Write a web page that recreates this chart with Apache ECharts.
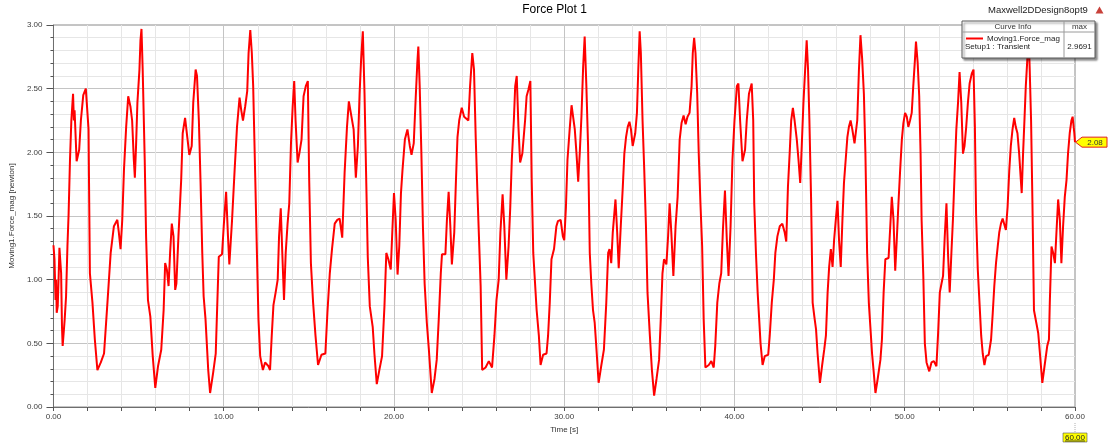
<!DOCTYPE html>
<html>
<head>
<meta charset="utf-8">
<title>Force Plot 1</title>
<script src="https://cdn.jsdelivr.net/npm/echarts@6/dist/echarts.min.js"></script>
<style>
  html, body { margin: 0; padding: 0; background: #ffffff; }
  #chart { width: 1109px; height: 447px; }
</style>
</head>
<body>
<div id="chart"></div>
<script>
// Transient force magnitude on Moving1, sampled along the simulation time.
const timeS = [
  0.00, 0.06, 0.12, 0.16, 0.19, 0.25, 0.31, 0.35, 0.41, 0.45, 0.50, 0.54, 0.60, 0.66, 0.74, 0.82, 0.89, 0.97,
  1.05, 1.15, 1.20, 1.24, 1.36, 1.51, 1.61, 1.75, 1.90, 2.00, 2.06, 2.10, 2.14, 2.29, 2.43, 2.58, 2.78, 2.97,
  3.17, 3.36, 3.55, 3.75, 3.84, 3.94, 4.04, 4.14, 4.27, 4.39, 4.52, 4.62, 4.72, 4.78, 4.85, 4.93, 5.05, 5.11,
  5.17, 5.24, 5.36, 5.44, 5.55, 5.69, 5.83, 5.98, 6.14, 6.33, 6.47, 6.56, 6.66, 6.76, 6.85, 6.95, 7.05, 7.15,
  7.22, 7.34, 7.50, 7.59, 7.73, 7.86, 7.98, 8.12, 8.21, 8.35, 8.43, 8.54, 8.64, 8.74, 8.82, 8.93, 9.09, 9.20,
  9.38, 9.53, 9.61, 9.71, 9.90, 10.00, 10.14, 10.25, 10.33, 10.49, 10.64, 10.78, 10.93, 11.03, 11.13, 11.26,
  11.38, 11.46, 11.56, 11.65, 11.73, 11.85, 11.95, 12.04, 12.14, 12.30, 12.43, 12.53, 12.63, 12.72, 12.82,
  12.92, 13.05, 13.17, 13.25, 13.35, 13.44, 13.54, 13.64, 13.75, 13.85, 13.95, 14.05, 14.14, 14.22, 14.34,
  14.44, 14.57, 14.69, 14.82, 14.94, 15.02, 15.12, 15.25, 15.39, 15.54, 15.74, 15.97, 16.09, 16.23, 16.36,
  16.52, 16.67, 16.81, 16.96, 17.10, 17.24, 17.35, 17.49, 17.63, 17.76, 17.88, 17.98, 18.07, 18.17, 18.27,
  18.37, 18.46, 18.58, 18.75, 18.85, 18.99, 19.14, 19.30, 19.44, 19.55, 19.67, 19.81, 19.90, 20.00, 20.10,
  20.21, 20.31, 20.41, 20.50, 20.64, 20.79, 20.93, 21.03, 21.16, 21.28, 21.37, 21.43, 21.51, 21.61, 21.70,
  21.80, 21.93, 22.05, 22.22, 22.38, 22.51, 22.63, 22.75, 22.82, 23.02, 23.11, 23.21, 23.31, 23.40, 23.54,
  23.64, 23.73, 23.83, 23.98, 24.12, 24.37, 24.47, 24.60, 24.70, 24.80, 24.89, 24.99, 25.09, 25.18, 25.38,
  25.57, 25.76, 25.90, 26.02, 26.15, 26.25, 26.38, 26.48, 26.60, 26.73, 26.83, 26.92, 27.04, 27.12, 27.21,
  27.31, 27.41, 27.54, 27.70, 27.79, 27.89, 28.01, 28.09, 28.18, 28.38, 28.51, 28.61, 28.76, 28.96, 29.05,
  29.15, 29.25, 29.40, 29.54, 29.63, 29.79, 29.92, 30.00, 30.10, 30.19, 30.33, 30.43, 30.52, 30.62, 30.72,
  30.82, 30.91, 31.01, 31.11, 31.20, 31.30, 31.40, 31.50, 31.59, 31.69, 31.79, 31.88, 32.02, 32.17, 32.33,
  32.47, 32.58, 32.66, 32.76, 32.85, 33.01, 33.11, 33.20, 33.32, 33.44, 33.53, 33.63, 33.73, 33.83, 33.92,
  34.02, 34.17, 34.27, 34.35, 34.43, 34.50, 34.60, 34.70, 34.80, 34.89, 35.03, 35.15, 35.28, 35.42, 35.57,
  35.67, 35.77, 35.86, 36.00, 36.10, 36.19, 36.29, 36.41, 36.54, 36.66, 36.78, 36.89, 37.01, 37.13, 37.24,
  37.36, 37.48, 37.55, 37.63, 37.71, 37.81, 37.90, 38.00, 38.10, 38.19, 38.29, 38.49, 38.64, 38.78, 38.87,
  38.99, 39.11, 39.22, 39.32, 39.44, 39.55, 39.65, 39.77, 39.88, 40.00, 40.14, 40.23, 40.33, 40.47, 40.62,
  40.72, 40.85, 41.01, 41.10, 41.16, 41.26, 41.36, 41.45, 41.53, 41.65, 41.78, 41.98, 42.07, 42.19, 42.31,
  42.40, 42.52, 42.66, 42.81, 42.95, 43.04, 43.14, 43.24, 43.33, 43.43, 43.53, 43.66, 43.76, 43.86, 43.95,
  44.05, 44.15, 44.24, 44.32, 44.40, 44.50, 44.59, 44.69, 44.79, 44.88, 45.02, 45.14, 45.27, 45.37, 45.47,
  45.56, 45.66, 45.76, 45.85, 45.95, 46.05, 46.14, 46.24, 46.34, 46.43, 46.53, 46.63, 46.72, 46.82, 46.92,
  47.05, 47.21, 47.31, 47.40, 47.50, 47.60, 47.69, 47.79, 47.89, 47.98, 48.08, 48.18, 48.28, 48.41, 48.57,
  48.66, 48.76, 48.86, 49.05, 49.15, 49.24, 49.34, 49.44, 49.53, 49.63, 49.73, 49.83, 49.92, 50.02, 50.12,
  50.21, 50.31, 50.41, 50.50, 50.60, 50.66, 50.76, 50.85, 50.93, 50.99, 51.09, 51.18, 51.28, 51.44, 51.57,
  51.71, 51.86, 51.96, 52.06, 52.16, 52.25, 52.35, 52.45, 52.54, 52.64, 52.74, 52.83, 52.93, 53.03, 53.13,
  53.22, 53.32, 53.42, 53.51, 53.61, 53.71, 53.81, 53.94, 54.04, 54.12, 54.19, 54.29, 54.39, 54.49, 54.58,
  54.68, 54.78, 54.93, 55.07, 55.17, 55.26, 55.36, 55.46, 55.55, 55.65, 55.75, 55.84, 55.94, 56.04, 56.14,
  56.23, 56.33, 56.43, 56.52, 56.62, 56.72, 56.82, 56.87, 56.95, 57.03, 57.11, 57.20, 57.28, 57.34, 57.42,
  57.50, 57.59, 57.73, 57.84, 57.94, 58.08, 58.21, 58.37, 58.47, 58.52, 58.62, 58.72, 58.82, 58.91, 59.01,
  59.11, 59.20, 59.30, 59.40, 59.50, 59.59, 59.69, 59.79, 59.86, 59.96, 60.00
];

const forceN = [
  1.27, 1.16, 0.84, 1.00, 0.74, 0.79, 1.05, 1.25, 1.25, 1.05, 0.63, 0.48, 0.49, 0.69, 0.87, 1.26, 1.52, 1.94,
  2.25, 2.46, 2.25, 2.33, 1.93, 2.02, 2.25, 2.45, 2.50, 2.50, 2.18, 1.60, 1.05, 0.82, 0.53, 0.29, 0.35, 0.42,
  0.82, 1.21, 1.42, 1.47, 1.37, 1.24, 1.47, 1.86, 2.20, 2.44, 2.36, 2.25, 1.94, 1.80, 2.05, 2.39, 2.65, 2.88,
  2.9691, 2.65, 1.94, 1.34, 0.84, 0.71, 0.40, 0.15, 0.32, 0.45, 0.76, 1.13, 1.08, 0.95, 1.21, 1.44, 1.34, 0.92,
  0.97, 1.34, 1.78, 2.15, 2.27, 2.12, 1.98, 2.05, 2.39, 2.65, 2.60, 2.25, 1.76, 1.21, 0.87, 0.69, 0.29, 0.11,
  0.27, 0.42, 0.76, 1.18, 1.20, 1.42, 1.69, 1.34, 1.12, 1.47, 1.86, 2.20, 2.43, 2.33, 2.25, 2.36,
  2.48, 2.78, 2.96, 2.78, 2.52, 1.81, 1.21, 0.69, 0.40, 0.29, 0.35, 0.36, 0.32, 0.29, 0.56,
  0.80, 0.90, 1.00, 1.34, 1.56, 1.21, 0.84, 1.21, 1.44, 1.60, 2.07, 2.36, 2.56, 2.25, 1.92,
  1.99, 2.10, 2.44, 2.52, 2.56, 1.78, 1.13, 0.82, 0.56, 0.33, 0.41, 0.42, 0.74, 1.05, 1.24,
  1.44, 1.47, 1.48, 1.33, 1.84, 2.20, 2.40, 2.29, 2.18, 1.80, 2.05, 2.46, 2.73, 2.95, 2.46,
  1.78, 1.18, 0.79, 0.63, 0.42, 0.18, 0.29, 0.40, 0.79, 1.21, 1.16, 1.08, 1.37, 1.68, 1.47,
  1.04, 1.26, 1.68, 1.86, 2.10, 2.18, 2.05, 1.98, 2.07, 2.44, 2.70, 2.83, 2.52, 1.99, 1.42,
  0.97, 0.66, 0.45, 0.11, 0.22, 0.37, 0.69, 1.05, 1.20, 1.20, 1.47, 1.69, 1.42, 1.12, 1.37,
  1.78, 2.12, 2.25, 2.35, 2.28, 2.25, 2.52, 2.78, 2.65, 2.12, 1.73, 1.34, 0.95, 0.29, 0.31,
  0.36, 0.31, 0.56, 0.84, 1.00, 1.37, 1.67, 1.42, 1.00, 1.26, 1.57, 1.94, 2.25, 2.52, 2.60,
  2.20, 1.92, 1.99, 2.25, 2.44, 2.49, 2.56, 1.78, 1.21, 0.76, 0.56, 0.33, 0.41, 0.42, 0.56,
  0.82, 1.16, 1.24, 1.42, 1.46, 1.47, 1.34, 1.31, 1.57, 1.94, 2.20, 2.37, 2.28, 2.18, 1.99,
  1.77, 1.99, 2.28, 2.67, 2.91, 2.52, 2.05, 1.21, 0.97, 0.76, 0.66, 0.48, 0.19, 0.32, 0.45,
  0.82, 1.21, 1.24, 1.13, 1.37, 1.63, 1.37, 1.09, 1.42, 1.73, 1.99, 2.12, 2.20, 2.24, 2.18,
  2.05, 2.15, 2.31, 2.65, 2.95, 2.78, 2.25, 1.86, 1.42, 0.90, 0.56, 0.29, 0.09, 0.22, 0.37,
  0.69, 1.05, 1.16, 1.12, 1.34, 1.60, 1.37, 1.03, 1.42, 1.65, 2.10, 2.23, 2.29, 2.22, 2.28,
  2.31, 2.52, 2.78, 2.90, 2.78, 2.46, 1.99, 1.60, 1.26, 0.69, 0.31, 0.33, 0.36, 0.31, 0.48,
  0.82, 0.97, 1.05, 1.39, 1.70, 1.31, 1.03, 1.42, 1.94, 2.25, 2.52, 2.54, 2.25, 1.93, 2.02,
  2.25, 2.46, 2.54, 2.25, 1.60, 1.21, 0.90, 0.69, 0.50, 0.33, 0.40, 0.41, 0.56, 0.82, 1.00,
  1.21, 1.34, 1.42, 1.44, 1.37, 1.30, 1.73, 1.99, 2.25, 2.35, 2.25, 2.10, 1.94, 1.76, 2.05,
  2.39, 2.65, 2.88, 2.65, 2.25, 1.63, 0.82, 0.71, 0.61, 0.42, 0.19, 0.32, 0.45, 0.56, 0.90,
  1.10, 1.24, 1.10, 1.31, 1.47, 1.62, 1.31, 1.10, 1.47, 1.76, 1.94, 2.12, 2.20, 2.25, 2.18,
  2.07, 2.25, 2.65, 2.92, 2.73, 2.46, 1.99, 1.21, 0.82, 0.63, 0.42, 0.27, 0.11, 0.22, 0.37,
  0.53, 0.90, 1.16, 1.17, 1.42, 1.65, 1.47, 1.07, 1.31, 1.60, 1.86, 2.10, 2.23, 2.31, 2.28,
  2.20, 2.25, 2.31, 2.52, 2.73, 2.87, 2.70, 2.44, 1.99, 1.47, 1.03, 0.50, 0.35, 0.28, 0.35,
  0.36, 0.32, 0.58, 0.90, 0.97, 1.03, 1.34, 1.60, 1.21, 0.90, 1.21, 1.47, 1.84, 2.18, 2.39,
  2.63, 2.39, 1.99, 2.05, 2.20, 2.39, 2.54, 2.62, 2.65, 2.20, 1.52, 1.08, 0.82, 0.56, 0.42,
  0.33, 0.40, 0.41, 0.53, 0.74, 0.95, 1.13, 1.26, 1.37, 1.44, 1.48, 1.47, 1.39, 1.57, 1.86,
  2.05, 2.18, 2.27, 2.20, 2.15, 1.99, 1.78, 1.68, 1.99, 2.25, 2.52, 2.73, 2.93, 2.65, 2.25,
  1.60, 0.76, 0.66, 0.58, 0.42, 0.19, 0.32, 0.48, 0.53, 0.82, 1.26, 1.21, 1.13, 1.37, 1.63,
  1.47, 1.13, 1.42, 1.65, 1.78, 1.99, 2.15, 2.25, 2.28, 2.15, 2.08
];

// Axis ticks
const timeTicks = [0, 10, 20, 30, 40, 50, 60];
const forceTicks = [0, 0.5, 1, 1.5, 2, 2.5, 3];

const curveName = 'Moving1.Force_mag';
const setupName = 'Setup1 : Transient';
const designName = 'Maxwell2DDesign8opt9';

const FONT = '"Liberation Sans", Arial, sans-serif';
const CURVE_RED = '#ff0000';

const points = timeS.map((t, i) => [t, forceN[i]]);

const chart = echarts.init(document.getElementById('chart'), null, { renderer: 'canvas' });

const option = {
  animation: false,
  backgroundColor: '#ffffff',
  textStyle: { fontFamily: FONT },
  title: {
    text: 'Force Plot 1',
    left: 'center',
    top: 4,
    padding: 0,
    textStyle: { fontFamily: FONT, fontSize: 12, fontWeight: 'normal', color: '#000000' }
  },
  grid: {
    left: 44, right: 34, top: 25, bottom: 40,
    show: true,
    borderColor: '#8a8a8a',
    borderWidth: 1,
    backgroundColor: 'transparent'
  },
  xAxis: {
    type: 'value',
    min: timeTicks[0],
    max: timeTicks[timeTicks.length - 1],
    interval: timeTicks[1] - timeTicks[0],
    name: 'Time [s]',
    nameLocation: 'middle',
    nameGap: 16,
    nameTextStyle: { fontFamily: FONT, fontSize: 8, color: '#333333' },
    axisLine: { show: true, onZero: false, lineStyle: { color: '#6e6e6e', width: 1 } },
    axisTick: { show: true, length: 4, lineStyle: { color: '#555555' } },
    minorTick: { show: true, splitNumber: 5, length: 4, lineStyle: { color: '#555555' } },
    axisLabel: {
      fontFamily: FONT, fontSize: 8, color: '#3c3c3c', margin: 6,
      formatter: v => v.toFixed(2)
    },
    splitLine: { show: true, lineStyle: { color: '#c4c4c4', width: 1 } },
    minorSplitLine: { show: true, lineStyle: { color: '#e6e6e6', width: 1 } }
  },
  yAxis: {
    type: 'value',
    min: forceTicks[0],
    max: forceTicks[forceTicks.length - 1],
    interval: forceTicks[1] - forceTicks[0],
    name: 'Moving1.Force_mag [newton]',
    nameLocation: 'middle',
    nameGap: 28,
    nameRotate: 90,
    nameTextStyle: { fontFamily: FONT, fontSize: 8, color: '#333333' },
    axisLine: { show: true, lineStyle: { color: '#6e6e6e', width: 1 } },
    axisTick: { show: true, length: 7, lineStyle: { color: '#555555' } },
    minorTick: { show: true, splitNumber: 5, length: 3, lineStyle: { color: '#555555' } },
    axisLabel: {
      fontFamily: FONT, fontSize: 8, color: '#3c3c3c', margin: 11,
      formatter: v => v.toFixed(2)
    },
    splitLine: { show: true, lineStyle: { color: '#c4c4c4', width: 1 } },
    minorSplitLine: { show: true, lineStyle: { color: '#e6e6e6', width: 1 } }
  },
  series: [{
    name: curveName,
    type: 'line',
    data: points,
    showSymbol: false,
    symbol: 'none',
    smooth: false,
    clip: true,
    lineStyle: { color: CURVE_RED, width: 2 },
    zlevel: 0,
    z: 2
  }]
};

chart.setOption(option);

// Overlay: design name, curve-info table and the end-value callouts,
// placed with the chart's own coordinate conversion. The component sits
// on a higher layer so the table covers the curve underneath it.
const lastT = timeS[timeS.length - 1];
const lastF = forceN[forceN.length - 1];
const maxF = Math.max.apply(null, forceN);
const [cx, cy] = chart.convertToPixel({ gridIndex: 0 }, [lastT, lastF]);
const [, axisY] = chart.convertToPixel({ gridIndex: 0 }, [lastT, forceTicks[0]]);

const boxX = 962, boxY = 21, boxW = 133, boxH = 37, divX = 1064, headH = 11;

const elements = [
  {
    type: 'text', left: 988, top: 5,
    style: { text: designName, fontFamily: FONT, fontSize: 9.5, fill: '#222222' }
  },
  {
    type: 'polygon',
    shape: { points: [[1099.5, 6.5], [1103.5, 13.5], [1095.5, 13.5]] },
    style: { fill: '#c8413a' }
  },
  // curve info table
  {
    type: 'group',
    children: [
      {
        type: 'rect',
        shape: { x: boxX, y: boxY, width: boxW, height: boxH },
        style: {
          fill: '#ffffff', stroke: '#5a5a5a', lineWidth: 1,
          shadowBlur: 2, shadowOffsetX: 2, shadowOffsetY: 2, shadowColor: 'rgba(0,0,0,0.45)'
        },
        z: 50
      },
      {
        type: 'line',
        shape: { x1: boxX, y1: boxY + headH, x2: boxX + boxW, y2: boxY + headH },
        style: { stroke: '#9a9a9a', lineWidth: 1 },
        z: 51
      },
      {
        type: 'line',
        shape: { x1: divX, y1: boxY, x2: divX, y2: boxY + boxH },
        style: { stroke: '#9a9a9a', lineWidth: 1 },
        z: 51
      },
      {
        type: 'text', x: (boxX + divX) / 2, y: boxY + headH / 2 + 0.5,
        style: { text: 'Curve Info', fontFamily: FONT, fontSize: 8, fill: '#333333', align: 'center', verticalAlign: 'middle' },
        z: 51
      },
      {
        type: 'text', x: (divX + boxX + boxW) / 2, y: boxY + headH / 2 + 0.5,
        style: { text: 'max', fontFamily: FONT, fontSize: 8, fill: '#333333', align: 'center', verticalAlign: 'middle' },
        z: 51
      },
      {
        type: 'line',
        shape: { x1: 966, y1: 38.5, x2: 983, y2: 38.5 },
        style: { stroke: CURVE_RED, lineWidth: 2 },
        z: 51
      },
      {
        type: 'text', x: 987, y: 38.5,
        style: { text: curveName, fontFamily: FONT, fontSize: 8, fill: '#222222', align: 'left', verticalAlign: 'middle' },
        z: 51
      },
      {
        type: 'text', x: 965, y: 46.5,
        style: { text: setupName, fontFamily: FONT, fontSize: 8, fill: '#222222', align: 'left', verticalAlign: 'middle' },
        z: 51
      },
      {
        type: 'text', x: (divX + boxX + boxW) / 2, y: 46.5,
        style: { text: maxF.toFixed(4), fontFamily: FONT, fontSize: 8, fill: '#222222', align: 'center', verticalAlign: 'middle' },
        z: 51
      }
    ]
  },
  // end value callout on the right edge
  {
    type: 'polygon',
    shape: {
      points: [
        [cx + 0.5, cy], [cx + 7, cy - 5], [cx + 32, cy - 5],
        [cx + 32, cy + 5], [cx + 7, cy + 5]
      ]
    },
    style: { fill: '#ffff00', stroke: '#e02020', lineWidth: 1 },
    z: 52
  },
  {
    type: 'text', x: cx + 20, y: cy + 0.5,
    style: { text: lastF.toFixed(2), fontFamily: FONT, fontSize: 8, fill: '#333333', align: 'center', verticalAlign: 'middle' },
    z: 53
  },
  // end time marker below the axis
  {
    type: 'line',
    shape: { x1: cx, y1: axisY + 16, x2: cx, y2: axisY + 26 },
    style: { stroke: '#b0b0b0', lineWidth: 1, lineDash: [1, 1] },
    z: 52
  },
  {
    type: 'rect',
    shape: { x: cx - 12, y: axisY + 26, width: 24, height: 9 },
    style: { fill: '#ffff00', stroke: '#555555', lineWidth: 0.6 },
    z: 52
  },
  {
    type: 'text', x: cx, y: axisY + 30.5,
    style: { text: lastT.toFixed(2), fontFamily: FONT, fontSize: 8, fill: '#222222', align: 'center', verticalAlign: 'middle' },
    z: 53
  },
  {
    type: 'line',
    shape: { x1: cx - 10, y1: axisY + 34, x2: cx + 10, y2: axisY + 34 },
    style: { stroke: '#222222', lineWidth: 0.8 },
    z: 53
  }
];

chart.setOption({ graphic: { zlevel: 1, z: 100, elements: elements } });
</script>
</body>
</html>
